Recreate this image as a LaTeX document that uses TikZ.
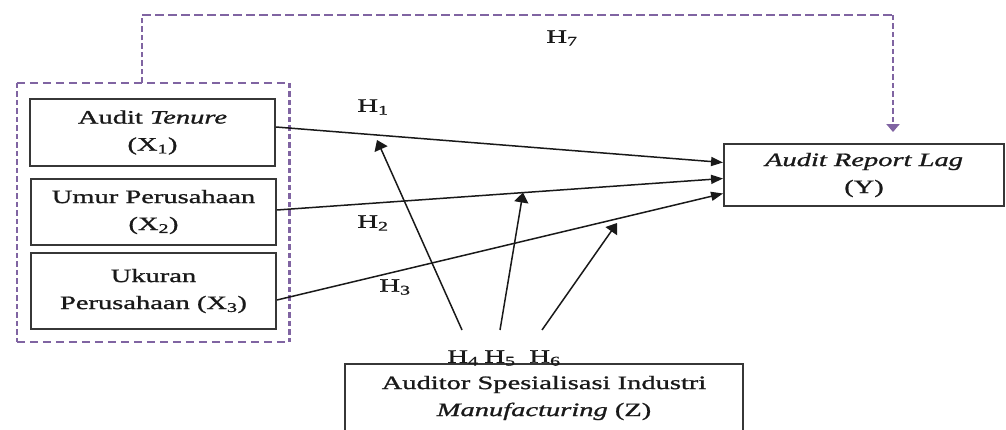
\documentclass[tikz,border=0pt]{standalone}
\usepackage{fontspec}
\setmainfont{Liberation Serif}[FakeStretch=1.5,FakeBold=1.2]
\usetikzlibrary{arrows.meta,calc}

\definecolor{frame}{RGB}{55,55,55}
\definecolor{ink}{RGB}{25,25,25}
\definecolor{grp}{RGB}{128,100,162}

\begin{document}
\begin{tikzpicture}[x=1pt,y=-1pt,
  every node/.style={font=\fontsize{19}{27}\selectfont, text=ink, inner sep=0pt},
  varbox/.style={draw=frame, line width=1.9pt, align=center},
  link/.style={draw=ink, line width=1.5pt},
  tipR/.style={-{Triangle[length=12pt,width=9pt]}},
  tipU/.style={-{Triangle[length=10pt,width=14pt]}},
  tipD/.style={-{Triangle[length=8pt,width=13pt]}},
  dashH/.style={color=grp, line width=2.2pt, dash pattern=on 8.5pt off 4.5pt},
  dashV/.style={color=grp, line width=2.6pt, dash pattern=on 5.5pt off 3pt},
]
\useasboundingbox (0,0) rectangle (1006,430);
\clip (0,0) rectangle (1006,430);

% independent variables
\node[varbox, minimum width=245pt, minimum height=67pt] (x1) at (152.5,132.5)
  {Audit \textit{Tenure}\\(X\textsubscript{1})};
\node[varbox, minimum width=245pt, minimum height=66pt] (x2) at (153.5,212)
  {Umur Perusahaan\\(X\textsubscript{2})};
\node[varbox, minimum width=245pt, minimum height=76pt] (x3) at (153.5,291)
  {Ukuran\\Perusahaan (X\textsubscript{3})};

% dependent variable
\node[varbox, minimum width=280pt, minimum height=62pt] (y) at (864,175)
  {\textit{Audit Report Lag}\\(Y)};

% moderating variable
\node[varbox, minimum width=398pt, minimum height=68pt] (z) at (544,398)
  {Auditor Spesialisasi Industri\\\textit{Manufacturing} (Z)};

% dashed group around X1--X3
\node[minimum width=272pt, minimum height=259pt] (grp) at (153,212.5) {};
\draw[dashH] (grp.north west) -- (grp.north east);
\draw[dashH] (grp.south west) -- (grp.south east);
\draw[dashV] (grp.north west) -- (grp.south west);
\draw[dashV] (grp.north east) -- (grp.south east);

% simultaneous path H7
\coordinate (h7corner) at (142,15);
\coordinate (h7turn) at (893,15);
\draw[dashV] ([xshift=-11pt]grp.north) -- (h7corner);
\draw[dashH] (h7corner) -- (h7turn);
\draw[dashV, tipD] (h7turn) -- ([xshift=29pt,yshift=11pt]y.north);

% direct effects
\draw[link, tipR] ([yshift=5.5pt]x1.east) -- ([yshift=12.5pt]y.west);
\draw[link, tipR] ([yshift=2pt]x2.east) -- ([yshift=-3.5pt]y.west);
\draw[link, tipR] ([yshift=-9pt]x3.east) -- ([yshift=-18.5pt]y.west);

% moderating effects
\coordinate (s4) at (462,330);
\coordinate (s5) at (500,330);
\coordinate (s6) at (542,330);
\coordinate (t4) at (377,140);
\coordinate (t5) at (523,192.5);
\coordinate (t6) at (617,223);
\draw[link, tipU] (s4) -- (t4);
\draw[link, tipU] (s5) -- (t5);
\draw[link, tipU] (s6) -- (t6);

% hypothesis labels
\node (h1) at (373,107) {H\textsubscript{1}};
\node (h2) at (373,223) {H\textsubscript{2}};
\node (h3) at (395,287) {H\textsubscript{3}};
\node (h4) at (463,358) {H\textsubscript{4}};
\node (h5) at (500,358) {H\textsubscript{5}};
\node (h6) at (545,358) {H\textsubscript{6}};
\node (h7) at (562,38) {H\textsubscript{7}};
\end{tikzpicture}
\end{document}
